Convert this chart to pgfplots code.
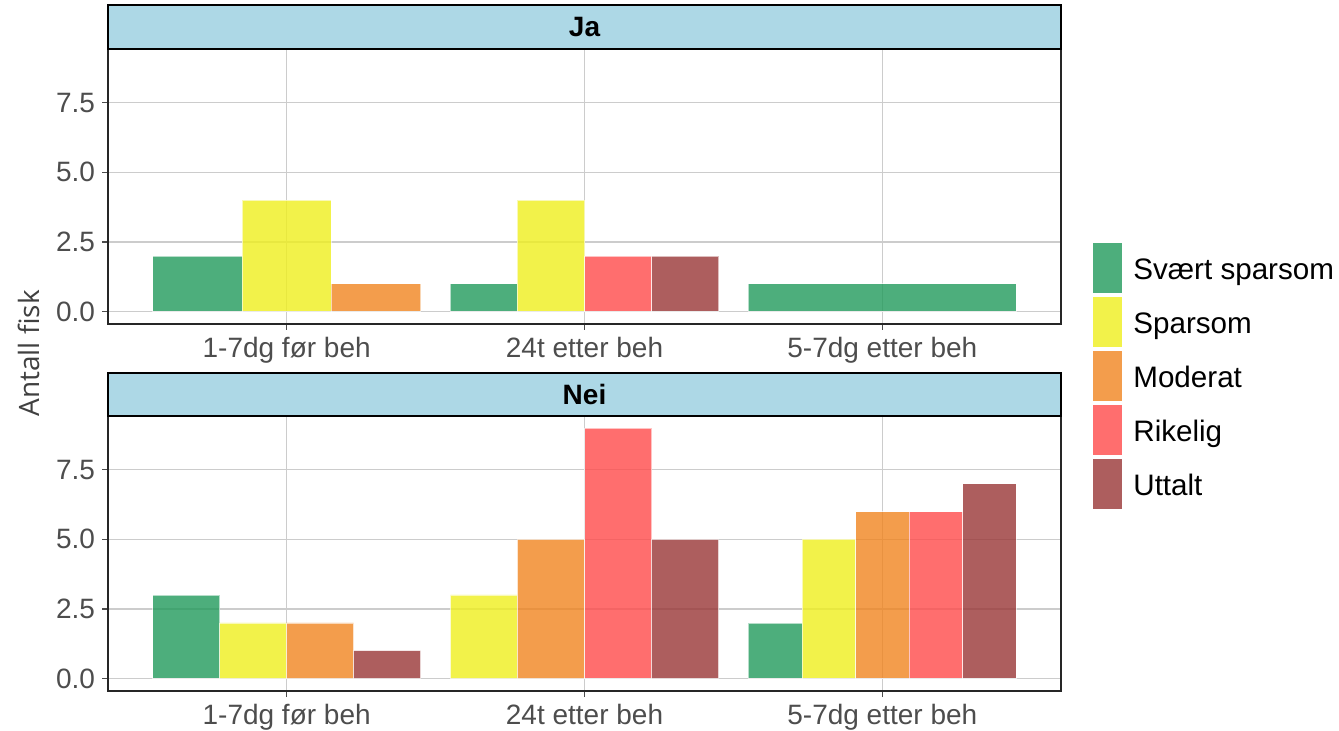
\documentclass[border=0pt]{standalone}
\usepackage{pgfplots}
\pgfplotsset{compat=1.18}
\usepackage{fontspec}
\setmainfont{Liberation Sans}
\newfontfamily\labfont{Open Sans}

\definecolor{cSv}{RGB}{33,154,91}
\definecolor{cSp}{RGB}{239,239,29}
\definecolor{cMo}{RGB}{240,132,31}
\definecolor{cRi}{RGB}{255,74,74}
\definecolor{cUt}{RGB}{153,54,54}
\definecolor{stripcol}{RGB}{173,216,230}
\definecolor{tickgray}{RGB}{77,77,77}

\pgfplotsset{
  fbar/.style={ybar, bar shift=0pt, bar width=#1, draw=white, draw opacity=0.6, line width=0.25pt,
    fill opacity=0.8, forget plot},
  panel/.style={
    scale only axis, width=476.5pt, height=137.75pt,
    xmin=0.4, xmax=3.6, ymin=-0.45, ymax=9.45,
    xtick={1,2,3}, xticklabels={1-7dg før beh, 24t etter beh, 5-7dg etter beh},
    ytick={0,2.5,5,7.5}, yticklabels={0.0,2.5,5.0,7.5},
    xtick pos=left, ytick pos=left, tick align=outside,
    major tick length=3pt,
    tick style={black!70, line width=0.6pt},
    grid=major, major grid style={black!20, line width=0.6pt},
    axis line style={black!85, line width=0.75pt},
    tick label style={font=\fontsize{14}{16}\selectfont, text=tickgray},
    clip=false,
  },
}

\begin{document}
\begin{tikzpicture}
\path[use as bounding box] (0,0) rectangle (669.5pt,-365.5pt);

% panel Ja
\begin{axis}[panel, at={(54pt,-162pt)}, anchor=south west]
\addplot[fbar=0.3, fill=cSv] coordinates {(0.7,2)};
\addplot[fbar=0.3, fill=cSp] coordinates {(1.0,4)};
\addplot[fbar=0.3, fill=cMo] coordinates {(1.3,1)};
\addplot[fbar=0.225, fill=cSv] coordinates {(1.6625,1)};
\addplot[fbar=0.225, fill=cSp] coordinates {(1.8875,4)};
\addplot[fbar=0.225, fill=cRi] coordinates {(2.1125,2)};
\addplot[fbar=0.225, fill=cUt] coordinates {(2.3375,2)};
\addplot[fbar=0.9, fill=cSv] coordinates {(3,1)};
\draw[fill=stripcol, line width=1pt] (rel axis cs:0,1) rectangle ([yshift=22pt]rel axis cs:1,1);
\node[font=\bfseries\fontsize{14}{16}\selectfont] at ([yshift=11pt]rel axis cs:0.5,1) {Ja};
\end{axis}

% panel Nei
\begin{axis}[panel, at={(54pt,-345.5pt)}, anchor=south west,
  legend style={at={(1.0325,1.145)}, anchor=west, draw=none, fill=none,
    inner sep=0pt, row sep=1pt, column sep=3pt, font=\fontsize{14.8}{17}\selectfont},
  legend cell align=left,
  legend image code/.code={\fill[#1, draw=white, line width=0.5pt] (0pt,-11.25pt) rectangle (15pt,14.25pt);}]
\addplot[fbar=0.225, fill=cSv] coordinates {(0.6625,3)};
\addplot[fbar=0.225, fill=cSp] coordinates {(0.8875,2) (1.6625,3)};
\addplot[fbar=0.225, fill=cMo] coordinates {(1.1125,2) (1.8875,5)};
\addplot[fbar=0.225, fill=cRi] coordinates {(2.1125,9)};
\addplot[fbar=0.225, fill=cUt] coordinates {(1.3375,1) (2.3375,5)};
\addplot[fbar=0.18, fill=cSv] coordinates {(2.64,2)};
\addplot[fbar=0.18, fill=cSp] coordinates {(2.82,5)};
\addplot[fbar=0.18, fill=cMo] coordinates {(3.00,6)};
\addplot[fbar=0.18, fill=cRi] coordinates {(3.18,6)};
\addplot[fbar=0.18, fill=cUt] coordinates {(3.36,7)};
\addlegendimage{fill=cSv, fill opacity=0.8}
\addlegendentry{Svært sparsom}
\addlegendimage{fill=cSp, fill opacity=0.8}
\addlegendentry{Sparsom}
\addlegendimage{fill=cMo, fill opacity=0.8}
\addlegendentry{Moderat}
\addlegendimage{fill=cRi, fill opacity=0.8}
\addlegendentry{Rikelig}
\addlegendimage{fill=cUt, fill opacity=0.8}
\addlegendentry{Uttalt}
\draw[fill=stripcol, line width=1pt] (rel axis cs:0,1) rectangle ([yshift=21.5pt]rel axis cs:1,1);
\node[font=\bfseries\fontsize{14}{16}\selectfont] at ([yshift=10.75pt]rel axis cs:0.5,1) {Nei};
\end{axis}

\node[rotate=90, font=\labfont\fontsize{14}{16}\selectfont, text=black!75] at (14.5pt,-176.75pt) {Antall fisk};
\end{tikzpicture}
\end{document}
